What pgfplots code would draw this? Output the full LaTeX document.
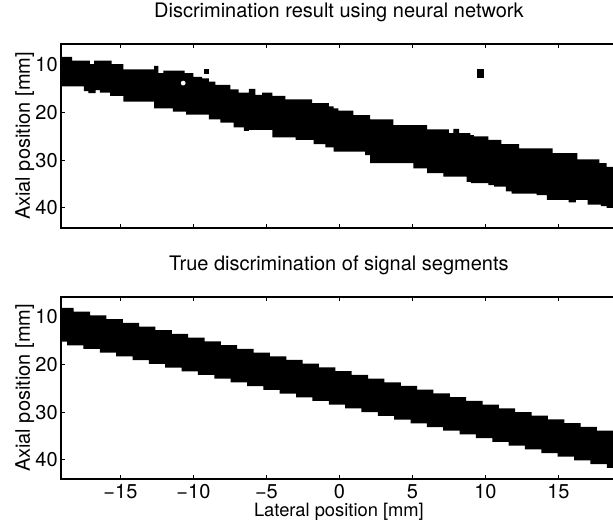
\documentclass[border=0pt]{standalone}
\usepackage{fontspec}
\setmainfont{TeX Gyre Heros}
\usepackage{pgfplots}
\pgfplotsset{compat=1.18}
\usepgfplotslibrary{fillbetween}

\pgfplotsset{
  panel/.style={
    scale only axis, width=333.5pt,
    xmin=-19.07, xmax=19,
    y dir=reverse,
    xtick={-15,-10,-5,0,5,10,15},
    ytick={10,20,30,40},
    tick align=inside, major tick length=2.4pt,
    tick style={black, line width=0.6pt},
    axis line style={line width=1pt},
    tick label style={font=\fontsize{12}{14}\selectfont},
    /pgf/number format/assume math mode=true,
    yticklabel style={inner sep=0pt, anchor=east, xshift=-1.8pt},
    title style={font=\fontsize{12}{14}\selectfont, at={(axis description cs:0.5,1)}, anchor=base, yshift=10pt},
    ylabel={Axial position [mm]},
    ylabel style={font=\fontsize{12}{14}\selectfont, at={(axis description cs:-0.0558,0.5)}, anchor=base},
    axis on top,
  },
  band/.style={const plot mark left, draw=none, forget plot},
}

\begin{document}
\begin{tikzpicture}
% neural network result
\begin{axis}[panel, at={(0,0)}, anchor=south west, height=110.4pt,
  ymin=5.6, ymax=44.2, xticklabels={},
  title={Discrimination result using neural network}]
  \addplot[band, name path=nnup] coordinates {
    (-19,8.3) (-18.3,9.1) (-17.1,9.8) (-16.8,9.1) (-15.6,9.8) (-14.8,10.9)
    (-12.7,10.2) (-12.4,11.7) (-12.05,11.2) (-10.6,11.7) (-10.0,12.5) (-9.4,12.8)
    (-8.95,13.5) (-8.5,14.2) (-7.47,15.1) (-6.9,15.8) (-6.2,15.0) (-5.75,16.3)
    (-5.3,15.8) (-4.6,16.5) (-3.7,17.2) (-1.87,18.0) (-0.73,18.7) (-0.4,19.1)
    (-0.07,19.6) (0.96,20.5) (2.1,21.4) (3.7,22.6) (6.0,23.5) (7.5,24.3)
    (7.8,23.4) (8.2,24.3) (8.97,24.7) (9.2,25.0) (10.2,25.7) (11.1,26.6)
    (12.3,27.5) (14.6,28.5) (16.3,29.8) (17.8,30.6) (18.3,31.4) (19,31.4)
  };
  \addplot[band, name path=nnlo] coordinates {
    (-19,14.5) (-17.5,15.5) (-17.2,15.9) (-16.7,15.3) (-16.4,15.8) (-15.7,16.5)
    (-14.8,17.7) (-12.7,19.1) (-11.4,19.8) (-10.5,20.4) (-8.95,21.4) (-8.15,22.1)
    (-7.24,23.1) (-6.55,23.8) (-6.2,23.6) (-4.6,25.2) (-3.0,25.7) (-1.76,26.6)
    (-0.96,27.3) (-0.4,28.2) (1.76,28.9) (2.1,30.6) (5.07,31.7) (6.0,32.7)
    (7.12,33.4) (8.72,34.5) (9.0,34.8) (10.2,35.2) (10.6,35.5) (11.4,36.5)
    (11.8,37.0) (13.5,37.3) (14.2,38.3) (15.7,38.8) (16.2,38.3) (17.0,39.3)
    (17.9,39.6) (18.3,40.0) (19,40.0)
  };
  \addplot[black, draw=none] fill between[of=nnup and nnlo];
  \addplot[only marks, mark=square*, mark size=1.2pt, black] coordinates {(-9.1,11.4)};
  \addplot[only marks, mark=square*, mark size=1.8pt, mark options={yscale=1.35}, black] coordinates {(9.68,11.75)};
  \addplot[only marks, mark=*, mark size=1.2pt, white] coordinates {(-10.7,13.8)};
\end{axis}

% true discrimination
\begin{axis}[panel, at={(0,-150.6pt)}, anchor=south west, height=109.2pt,
  ymin=5.8, ymax=44.0,
  xticklabels={−15,−10,−5,0,5,10,15},
  xticklabel style={anchor=base, inner sep=0pt, yshift=-11.6pt},
  xlabel={Lateral position [mm]},
  xlabel style={font=\fontsize{11}{13}\selectfont, inner sep=0pt, at={(axis description cs:0.5,0)}, anchor=base, yshift=-22.8pt},
  title={True discrimination of signal segments}]
  \addplot[band, name path=trup] coordinates {
    (-19,8.1) (-18.2,8.88) (-17.08,9.66) (-15.96,10.44) (-14.84,11.22) (-13.72,12.0)
    (-12.6,12.78) (-11.48,13.56) (-10.36,14.34) (-9.24,15.12) (-8.12,15.9) (-7.0,16.68)
    (-5.88,17.46) (-4.76,18.24) (-3.64,19.02) (-2.52,19.8) (-1.4,20.58) (-0.28,21.36)
    (0.84,22.14) (1.96,22.92) (3.08,23.7) (4.2,24.48) (5.32,25.26) (6.44,26.04)
    (7.56,26.82) (8.68,27.6) (9.8,28.38) (10.92,29.16) (12.04,29.94) (13.16,30.72)
    (14.28,31.5) (15.4,32.28) (16.52,33.06) (17.64,33.84) (18.76,34.62) (19,34.62)
  };
  \addplot[band, name path=trlo] coordinates {
    (-19,15.15) (-18.65,15.93) (-17.53,16.71) (-16.41,17.49) (-15.29,18.27) (-14.17,19.05)
    (-13.05,19.83) (-11.93,20.61) (-10.81,21.39) (-9.69,22.17) (-8.57,22.95) (-7.45,23.73)
    (-6.33,24.51) (-5.21,25.29) (-4.09,26.07) (-2.97,26.85) (-1.85,27.63) (-0.73,28.41)
    (0.39,29.19) (1.51,29.97) (2.63,30.75) (3.75,31.53) (4.87,32.31) (5.99,33.09)
    (7.11,33.87) (8.23,34.65) (9.35,35.43) (10.47,36.21) (11.59,36.99) (12.71,37.77)
    (13.83,38.55) (14.95,39.33) (16.07,40.11) (17.19,40.89) (18.31,41.67) (19,41.67)
  };
  \addplot[black, draw=none] fill between[of=trup and trlo];
\end{axis}

\pgfresetboundingbox
\path[use as bounding box] (-36.6pt,-175.8pt) rectangle (331.2pt,136.8pt);
\end{tikzpicture}
\end{document}
